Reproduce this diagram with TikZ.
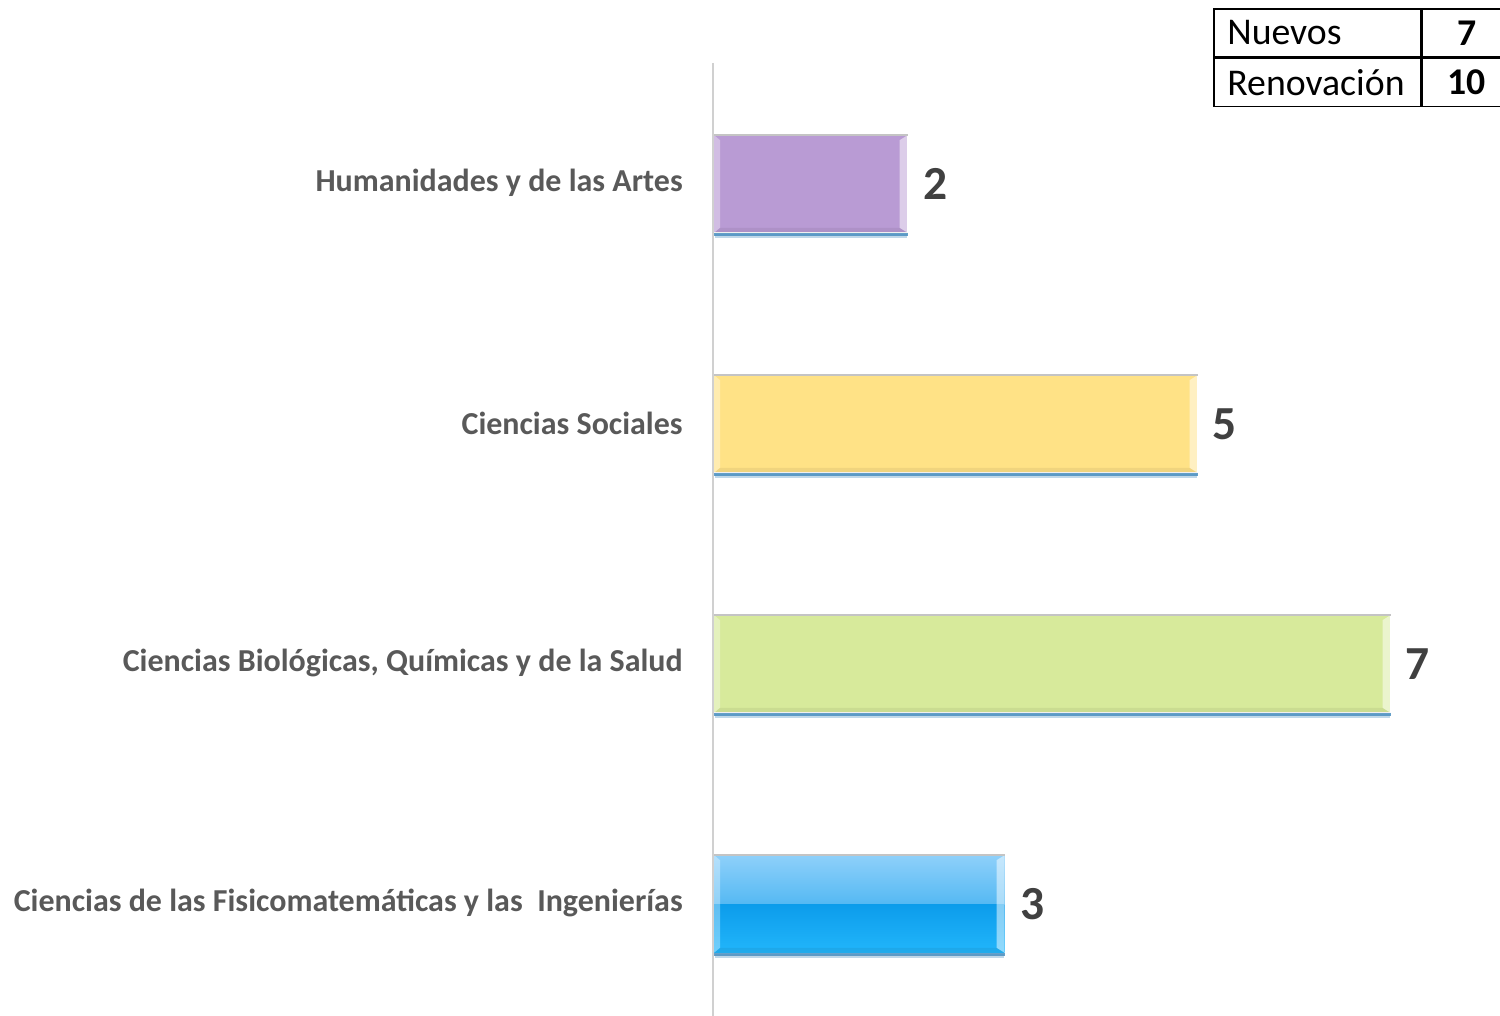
\documentclass[tikz,border=0pt]{standalone}
\usepackage{fontspec}
\setmainfont{Carlito}
\usetikzlibrary{calc}
\definecolor{axisgray}{HTML}{D0D0D0}
\definecolor{labgray}{HTML}{595959}
\definecolor{valgray}{HTML}{404040}
\definecolor{purplebar}{HTML}{B99BD4}
\definecolor{yellowbar}{HTML}{FFE286}
\definecolor{greenbar}{HTML}{D7EA9B}
\definecolor{bluetop}{HTML}{8ED0FA}
\definecolor{bluemid}{HTML}{55B9F3}
\definecolor{bluelow}{HTML}{0C9CEB}
\definecolor{bluebot}{HTML}{22B6FB}
\definecolor{shadowblue}{HTML}{4A8FC0}
\definecolor{topgray}{HTML}{C4C4C4}
\begin{document}
\begin{tikzpicture}[x=0.02cm,y=-0.02cm,
  catlabel/.style={anchor=east,inner sep=0pt,font=\fontsize{18.2}{21}\selectfont\bfseries,text=labgray},
  vallabel/.style={anchor=west,inner sep=0pt,font=\fontsize{27}{30}\selectfont\bfseries,text=valgray,xshift=0.3cm},
  barbox/.style={anchor=west,inner sep=0pt,minimum height=1.94cm},
  cell/.style={draw=black,line width=0.95pt,inner sep=0pt,minimum height=0.96cm,font=\fontsize{21.5}{24}\selectfont}
]
\useasboundingbox (0,0) rectangle (1500,1016);
% axis
\draw[axisgray,line width=1.2pt] (713,63) coordinate (axtop) -- (713,1016) coordinate (axbot);

% bars
\node[barbox,minimum width=3.86cm,fill=purplebar] (b1) at (714,184) {};
\node[barbox,minimum width=9.66cm,fill=yellowbar] (b2) at (714,424) {};
\node[barbox,minimum width=13.52cm,fill=greenbar] (b3) at (714,664) {};
\node[barbox,minimum width=5.80cm] (b4) at (714,904) {};
\shade[top color=bluetop,bottom color=bluemid] (b4.north west) rectangle (b4.east);
\shade[top color=bluelow,bottom color=bluebot] (b4.west) rectangle (b4.south east);

% bevel highlights and shadows
\foreach \b in {b1,b2,b3,b4}{
  \fill[white,opacity=0.35] (\b.north west) -- ++(6,5) -- ($(\b.south west)+(6,-5)$) -- (\b.south west) -- cycle;
  \fill[white,opacity=0.5] (\b.north east) -- ++(-8,5) -- ($(\b.south east)+(-8,-5)$) -- (\b.south east) -- cycle;
  \fill[black,opacity=0.06] (\b.south west) -- ++(6,-5) -- ($(\b.south east)+(-8,-5)$) -- (\b.south east) -- cycle;
  \draw[topgray,line width=1pt] (\b.north west) -- (\b.north east);
  \draw[shadowblue,line width=2.5pt,opacity=0.35] ($(\b.south west)+(1,3)$) -- ($(\b.south east)+(-1,3)$);
  \draw[shadowblue,line width=1.5pt,opacity=0.85] ($(\b.south west)+(0,1.5)$) -- ($(\b.south east)+(0,1.5)$);
}

% category labels
\node[catlabel] (l1) at (683,183) {Humanidades y de las Artes};
\node[catlabel] (l2) at (683,423) {Ciencias Sociales};
\node[catlabel] (l3) at (683,663) {Ciencias Biológicas, Químicas y de la Salud};
\node[catlabel] (l4) at (683,903) {Ciencias de las Fisicomatemáticas y las\ \ Ingenierías};

% value labels
\node[vallabel] (v1) at (b1.east) {2};
\node[vallabel] (v2) at (b2.east) {5};
\node[vallabel] (v3) at (b3.east) {7};
\node[vallabel] (v4) at (b4.east) {3};

% table
\node[cell,minimum width=4.14cm,anchor=north west,text width=3.6cm,align=left] (t11) at (1213,8) {Nuevos};
\node[cell,minimum width=1.58cm,anchor=north west,font=\fontsize{21.5}{24}\selectfont\bfseries] (t12) at (t11.north east) {\hspace{0.2cm}7};
\node[cell,minimum width=4.14cm,anchor=north west,text width=3.6cm,align=left] (t21) at (t11.south west) {Renovación};
\node[cell,minimum width=1.58cm,anchor=north west,font=\fontsize{21.5}{24}\selectfont\bfseries] (t22) at (t21.north east) {\hspace{0.2cm}10};
\end{tikzpicture}
\end{document}
